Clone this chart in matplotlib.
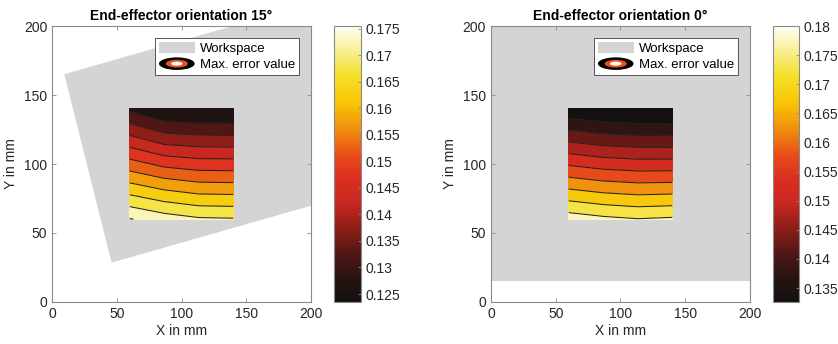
import numpy as np
import matplotlib
matplotlib.use('Agg')
import matplotlib.pyplot as plt
from matplotlib.colors import LinearSegmentedColormap, Normalize
from matplotlib.patches import Rectangle, Patch, Ellipse
from matplotlib.legend_handler import HandlerBase
import matplotlib.cm as cm

plt.rcParams['font.family'] = ['Liberation Sans', 'DejaVu Sans']

# grid of the measured poses (mm)
grid_x = [60, 86.67, 113.33, 140]
grid_y = [60, 86.67, 113.33, 140]

# max. error values, rows = grid_y, cols = grid_x
err_15 = [
    [0.1753, 0.1725, 0.1707, 0.1704],
    [0.1598, 0.1568, 0.1551, 0.1549],
    [0.1443, 0.1405, 0.1395, 0.1394],
    [0.1288, 0.1245, 0.1239, 0.1239],
]
err_0 = [
    [0.1778, 0.1762, 0.1752, 0.1758],
    [0.1622, 0.1606, 0.1598, 0.1600],
    [0.1466, 0.1450, 0.1443, 0.1442],
    [0.1310, 0.1294, 0.1289, 0.1284],
]

levels_15 = [0.130, 0.135, 0.140, 0.145, 0.150, 0.155, 0.160, 0.165, 0.170, 0.175]
levels_0 = [0.135, 0.140, 0.145, 0.150, 0.155, 0.160, 0.165, 0.170, 0.175]

clim_15 = (0.1235, 0.1755)
clim_0 = (0.1326, 0.1800)
cticks_15 = [0.125, 0.13, 0.135, 0.14, 0.145, 0.15, 0.155, 0.16, 0.165, 0.17, 0.175]
cticks_0 = [0.135, 0.14, 0.145, 0.15, 0.155, 0.16, 0.165, 0.17, 0.175, 0.18]

# workspace: lower left corner, size and rotation
ws_15 = {'corner': (46, 28.5), 'w': 230, 'h': 141.4, 'angle': 15}
ws_0 = {'corner': (-10, 15), 'w': 220, 'h': 200, 'angle': 0}

ticks = [0, 50, 100, 150, 200]

GRAY = '#d4d4d4'
FRAME = '#8a8a8a'
TXT = '#262626'

cmap = LinearSegmentedColormap.from_list('err', [
    (0.00, '#141010'),
    (0.08, '#241412'),
    (0.17, '#4e1614'),
    (0.27, '#901e18'),
    (0.36, '#c82820'),
    (0.45, '#dc2e20'),
    (0.53, '#e84c18'),
    (0.62, '#f08a10'),
    (0.72, '#f8c404'),
    (0.82, '#f4e028'),
    (0.92, '#f8f09c'),
    (1.00, '#fffff8'),
])


class EllipseHandler(HandlerBase):
    # black/orange/white ring like the matlab legend symbol
    def create_artists(self, legend, orig_handle, xdescent, ydescent,
                       width, height, fontsize, trans):
        cx = width / 2 - xdescent
        cy = height / 2 - ydescent
        arts = []
        for scale, col in ((1.0, 'black'), (0.62, '#e8501c'), (0.32, 'white')):
            arts.append(Ellipse((cx, cy), width * scale, height * 1.15 * scale,
                                facecolor=col, edgecolor='none',
                                transform=trans))
        return arts


def panel(ax, cax, err, levels, clim, cticks, ws, title):
    ax.add_patch(Rectangle(ws['corner'], ws['w'], ws['h'], angle=ws['angle'],
                           facecolor=GRAY, edgecolor='none', zorder=1))
    z = np.array(err)
    lo = min(z.min(), clim[0])
    hi = max(z.max(), clim[1])
    lv = [lo] + list(levels) + [hi]
    norm = Normalize(vmin=clim[0], vmax=clim[1])
    ax.contourf(grid_x, grid_y, z, levels=lv, cmap=cmap, norm=norm, zorder=2)
    ax.contour(grid_x, grid_y, z, levels=levels, colors='#24221a',
               linewidths=0.75, zorder=3)

    ax.set_xlim(0, 200)
    ax.set_ylim(0, 200)
    ax.set_xticks(ticks)
    ax.set_yticks(ticks)
    ax.tick_params(direction='in', length=3, width=0.6, color=FRAME,
                   labelsize=10, labelcolor=TXT, top=True, right=True,
                   labeltop=False, labelright=False)
    for s in ax.spines.values():
        s.set_color(FRAME)
        s.set_linewidth(0.8)
    ax.set_xlabel('X in mm', fontsize=10, color=TXT, labelpad=2)
    ax.set_ylabel('Y in mm', fontsize=10, color=TXT, labelpad=4)
    ax.set_title(title, fontsize=10, fontweight='bold', color='black', pad=4)

    h_ws = Patch(facecolor=GRAY, edgecolor='none', label='Workspace')
    h_err = Patch(facecolor='none', edgecolor='none', label='Max. error value')
    leg = ax.legend(handles=[h_ws, h_err], loc='upper right', fontsize=9.5,
                    handler_map={h_err: EllipseHandler()},
                    fancybox=False, framealpha=1, edgecolor='#555555',
                    handlelength=2.7, handleheight=0.9, handletextpad=0.4,
                    borderpad=0.3, labelspacing=0.25, borderaxespad=0.9)
    leg.get_frame().set_linewidth(0.7)
    leg.set_zorder(5)

    sm = cm.ScalarMappable(norm=norm, cmap=cmap)
    cb = plt.colorbar(sm, cax=cax)
    cb.set_ticks(cticks)
    cb.set_ticklabels(['%g' % t for t in cticks])
    cb.ax.tick_params(direction='in', length=2.5, width=0.6, color=FRAME,
                      labelsize=10, labelcolor=TXT)
    cb.outline.set_edgecolor(FRAME)
    cb.outline.set_linewidth(0.8)


fig = plt.figure(figsize=(8.38, 3.44), dpi=100)
ax1 = fig.add_axes([0.0621, 0.1221, 0.309, 0.8023])
cax1 = fig.add_axes([0.3986, 0.1221, 0.0322, 0.8023])
ax2 = fig.add_axes([0.5859, 0.1221, 0.309, 0.8023])
cax2 = fig.add_axes([0.9224, 0.1221, 0.031, 0.8023])

panel(ax1, cax1, err_15, levels_15, clim_15, cticks_15, ws_15,
      'End-effector orientation 15°')
panel(ax2, cax2, err_0, levels_0, clim_0, cticks_0, ws_0,
      'End-effector orientation 0°')

fig.savefig('out.png', dpi=100)
